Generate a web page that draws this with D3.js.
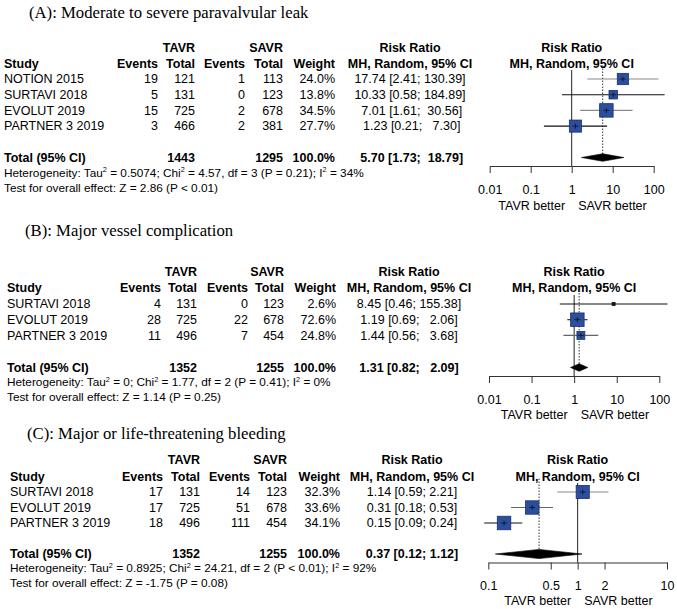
<!DOCTYPE html>
<html><head><meta charset="utf-8">
<script src="https://cdn.jsdelivr.net/npm/d3@7"></script>
<style>
body{margin:0;background:#fff}
svg{display:block}
text{font-family:"Liberation Sans",Arial,sans-serif;fill:#000}
</style>
</head><body><svg id="c" width="677" height="609"></svg>
<script>
// ---------- Panel A: Moderate to severe paravalvular leak ----------
const titleA = "(A): Moderate to severe paravalvular leak";
const studiesA = ["NOTION 2015", "SURTAVI 2018", "EVOLUT 2019", "PARTNER 3 2019"];
const tavrEventsA = [19, 5, 15, 3];
const tavrTotalA = [121, 131, 725, 466];
const savrEventsA = [1, 0, 2, 2];
const savrTotalA = [113, 123, 678, 381];
const weightA = [24.0, 13.8, 34.5, 27.7];
const rrA = [17.74, 10.33, 7.01, 1.23];
const lowerA = [2.41, 0.58, 1.61, 0.21];
const upperA = [130.39, 184.89, 30.56, 7.30];
const pooledA = [5.70, 1.73, 18.79];
const totalsA = [1443, 1295];
const hetA = ["0.5074", "4.57", "3", "P = 0.21", "34%"];
const testA = ["2.86", "P < 0.01"];
const ticksA = [0.01, 0.1, 1, 10, 100];

// ---------- Panel B: Major vessel complication ----------
const titleB = "(B): Major vessel complication";
const studiesB = ["SURTAVI 2018", "EVOLUT 2019", "PARTNER 3 2019"];
const tavrEventsB = [4, 28, 11];
const tavrTotalB = [131, 725, 496];
const savrEventsB = [0, 22, 7];
const savrTotalB = [123, 678, 454];
const weightB = [2.6, 72.6, 24.8];
const rrB = [8.45, 1.19, 1.44];
const lowerB = [0.46, 0.69, 0.56];
const upperB = [155.38, 2.06, 3.68];
const pooledB = [1.31, 0.82, 2.09];
const totalsB = [1352, 1255];
const hetB = ["0", "1.77", "2", "P = 0.41", "0%"];
const testB = ["1.14", "P = 0.25"];
const ticksB = [0.01, 0.1, 1, 10, 100];

// ---------- Panel C: Major or life-threatening bleeding ----------
const titleC = "(C): Major or life-threatening bleeding";
const studiesC = ["SURTAVI 2018", "EVOLUT 2019", "PARTNER 3 2019"];
const tavrEventsC = [17, 17, 18];
const tavrTotalC = [131, 725, 496];
const savrEventsC = [14, 51, 111];
const savrTotalC = [123, 678, 454];
const weightC = [32.3, 33.6, 34.1];
const rrC = [1.14, 0.31, 0.15];
const lowerC = [0.59, 0.18, 0.09];
const upperC = [2.21, 0.53, 0.24];
const pooledC = [0.37, 0.12, 1.12];
const totalsC = [1352, 1255];
const hetC = ["0.8925", "24.21", "2", "P < 0.01", "92%"];
const testC = ["-1.75", "P = 0.08"];
const ticksC = [0.1, 0.5, 1, 2, 10];

const groupLabels = ["TAVR", "SAVR"];
const colHeaders = ["Study", "Events", "Total", "Events", "Total", "Weight"];
const effectHeader = ["Risk Ratio", "MH, Random, 95% CI"];
const betterLabels = ["TAVR better", "SAVR better"];

// ---------- layout (positions / styles only) ----------
const panels = [
  { title: titleA, studies: studiesA, te: tavrEventsA, tt: tavrTotalA, se: savrEventsA, st: savrTotalA,
    w: weightA, rr: rrA, lo: lowerA, hi: upperA, pooled: pooledA, totals: totalsA, het: hetA, test: testA, ticks: ticksA,
    L: { titleX: 29, titleY: 12, studyX: 4, cols: [158, 195, 245, 283, 335], rrC: 410, h1: 48, h2: 63.5,
         row0: 79, step: 15.7, totalY: 157.5, hetY: 172.5, testY: 187.5, xr: [489.7, 653.7], axisY: 166, betterY: 206,
         dh: 3.8, lineCol: ["#8a8a8a", "#111", "#8a8a8a", "#111"] } },
  { title: titleB, studies: studiesB, te: tavrEventsB, tt: tavrTotalB, se: savrEventsB, st: savrTotalB,
    w: weightB, rr: rrB, lo: lowerB, hi: upperB, pooled: pooledB, totals: totalsB, het: hetB, test: testB, ticks: ticksB,
    L: { titleX: 25, titleY: 230, studyX: 7, cols: [161, 197, 248, 284, 336], rrC: 409, h1: 272, h2: 288,
         row0: 304, step: 15.7, totalY: 367.5, hetY: 382, testY: 397, xr: [489, 659.3], axisY: 376, betterY: 415,
         dh: 3.8, lineCol: ["#111", "#222", "#666"] } },
  { title: titleC, studies: studiesC, te: tavrEventsC, tt: tavrTotalC, se: savrEventsC, st: savrTotalC,
    w: weightC, rr: rrC, lo: lowerC, hi: upperC, pooled: pooledC, totals: totalsC, het: hetC, test: testC, ticks: ticksC,
    L: { titleX: 27, titleY: 433, studyX: 10, cols: [163, 200, 250, 287, 340], rrC: 412, h1: 460, h2: 476.5,
         row0: 492, step: 15.5, totalY: 554, hetY: 568, testY: 583, xr: [488.3, 667], axisY: 562.5, betterY: 601,
         dh: 4.6, lineCol: ["#8a8a8a", "#666", "#111"] } }
];

const svg = d3.select("#c");
svg.append("rect").attr("width", 677).attr("height", 609).attr("fill", "#fff");

const FS = 12.5, HFS = 11.8, TFS = 16.7;
function txt(g, x, y, s, anchor, opts = {}) {
  return g.append("text").attr("x", x).attr("y", y).attr("dy", "0.35em")
    .attr("text-anchor", anchor || "start")
    .style("font-size", (opts.size || FS) + "px")
    .style("font-weight", opts.bold ? "bold" : "normal")
    .style("font-family", opts.serif ? '"Liberation Serif","Times New Roman",serif' : null)
    .style("white-space", "pre")
    .text(s);
}
function supText(g, x, y, parts, size) {
  const t = g.append("text").attr("x", x).attr("y", y).attr("dy", "0.35em").style("font-size", size + "px");
  parts.forEach((p, i) => {
    if (i > 0) {
      t.append("tspan").attr("dy", -4.5).style("font-size", (size * 0.62) + "px").text("2");
      t.append("tspan").attr("dy", 4.5).text(p);
    } else t.append("tspan").text(p);
  });
}

const f2 = d3.format(".2f");
const fw = d3.format(".1f");

panels.forEach(P => {
  const L = P.L;
  const g = svg.append("g");
  const n = P.studies.length;
  const rowY = i => L.row0 + i * L.step;

  txt(g, L.titleX, L.titleY, P.title, "start", { size: TFS, serif: true });

  // headers
  txt(g, L.cols[1], L.h1, groupLabels[0], "end", { bold: true });
  txt(g, L.cols[3], L.h1, groupLabels[1], "end", { bold: true });
  txt(g, L.studyX, L.h2, colHeaders[0], "start", { bold: true });
  for (let k = 0; k < 5; k++) txt(g, L.cols[k], L.h2, colHeaders[k + 1], "end", { bold: true });
  txt(g, L.rrC, L.h1, effectHeader[0], "middle", { bold: true });
  txt(g, L.rrC, L.h2, effectHeader[1], "middle", { bold: true });

  // effect strings padded like R output
  const ests = P.rr.concat([P.pooled[0]]).map(f2);
  const los = P.lo.concat([P.pooled[1]]).map(f2);
  const his = P.hi.concat([P.pooled[2]]).map(f2);
  const me = d3.max(ests, s => s.length), ml = d3.max(los, s => s.length), mh = d3.max(his, s => s.length);
  const eff = ests.map((e, i) => e.padStart(me) + " [" + los[i].padStart(ml) + "; " + his[i].padStart(mh) + "]");

  for (let i = 0; i < n; i++) {
    const y = rowY(i);
    txt(g, L.studyX, y, P.studies[i]);
    txt(g, L.cols[0], y, String(P.te[i]), "end");
    txt(g, L.cols[1], y, String(P.tt[i]), "end");
    txt(g, L.cols[2], y, String(P.se[i]), "end");
    txt(g, L.cols[3], y, String(P.st[i]), "end");
    txt(g, L.cols[4], y, fw(P.w[i]) + "%", "end");
    txt(g, L.rrC, y, eff[i], "middle");
  }
  // totals
  txt(g, L.studyX, L.totalY, "Total (95% CI)", "start", { bold: true });
  txt(g, L.cols[1], L.totalY, String(P.totals[0]), "end", { bold: true });
  txt(g, L.cols[3], L.totalY, String(P.totals[1]), "end", { bold: true });
  txt(g, L.cols[4], L.totalY, "100.0%", "end", { bold: true });
  txt(g, L.rrC, L.totalY, eff[n], "middle", { bold: true });

  supText(g, L.studyX, L.hetY, ["Heterogeneity: Tau", " = " + P.het[0] + "; Chi", " = " + P.het[1] + ", df = " + P.het[2] + " (" + P.het[3] + "); I", " = " + P.het[4]], HFS);
  txt(g, L.studyX, L.testY, "Test for overall effect: Z = " + P.test[0] + " (" + P.test[1] + ")", "start", { size: HFS });

  // forest plot
  const x = d3.scaleLog().domain([P.ticks[0], P.ticks[P.ticks.length - 1]]).range(L.xr);
  const side = d3.scaleSqrt().domain([0, d3.max(P.w)]).range([0, 13.5]);
  const x1 = x(1);

  txt(g, x1, L.h1, effectHeader[0], "middle", { bold: true });
  txt(g, x1, L.h2, effectHeader[1], "middle", { bold: true });

  g.append("line").attr("x1", x1).attr("x2", x1).attr("y1", L.row0 - 9).attr("y2", L.axisY)
    .attr("stroke", "#222").attr("stroke-width", 1);
  g.append("line").attr("x1", x(P.pooled[0])).attr("x2", x(P.pooled[0]))
    .attr("y1", L.h2 + 2).attr("y2", L.totalY + 2)
    .attr("stroke", "#333").attr("stroke-width", 1).attr("stroke-dasharray", "1.5,1.5");

  for (let i = 0; i < n; i++) {
    const y = rowY(i), cx = x(P.rr[i]), s = Math.max(side(P.w[i]), 3);
    g.append("line").attr("x1", x(P.lo[i])).attr("x2", x(P.hi[i])).attr("y1", y).attr("y2", y)
      .attr("stroke", L.lineCol[i]).attr("stroke-width", 1.1);
    g.append("rect").attr("x", cx - s / 2).attr("y", y - s / 2).attr("width", s).attr("height", s)
      .attr("fill", s > 4 ? "#2b4f9e" : "#111").attr("stroke", s > 4 ? "#1a2f6b" : "#111").attr("stroke-width", 0.8);
    if (s > 4) {
      g.append("line").attr("x1", cx - 3).attr("x2", cx + 3).attr("y1", y).attr("y2", y).attr("stroke", "#111").attr("stroke-width", 0.8);
      g.append("line").attr("x1", cx).attr("x2", cx).attr("y1", y - 2.5).attr("y2", y + 2.5).attr("stroke", "#111").attr("stroke-width", 0.8);
    }
  }
  const dh = L.dh;
  g.append("path")
    .attr("d", `M${x(P.pooled[1])},${L.totalY} L${x(P.pooled[0])},${L.totalY - dh} L${x(P.pooled[2])},${L.totalY} L${x(P.pooled[0])},${L.totalY + dh} Z`)
    .attr("fill", "#000").attr("stroke", "#000").attr("stroke-width", 0.6);

  const ax = g.append("g").attr("transform", `translate(0,${L.axisY})`)
    .call(d3.axisBottom(x).tickValues(P.ticks).tickFormat(d3.format("~g")).tickSizeInner(7).tickSizeOuter(0).tickPadding(12));
  ax.select(".domain").attr("stroke", "#333");
  ax.selectAll(".tick line").attr("stroke", "#333");
  ax.selectAll(".tick text").style("font-size", FS + "px").style("font-family", '"Liberation Sans",Arial,sans-serif').attr("fill", "#000");

  txt(g, x1 - 6.5, L.betterY, betterLabels[0], "end");
  txt(g, x1 + 6.5, L.betterY, betterLabels[1], "start");
});
</script>
</body></html>
